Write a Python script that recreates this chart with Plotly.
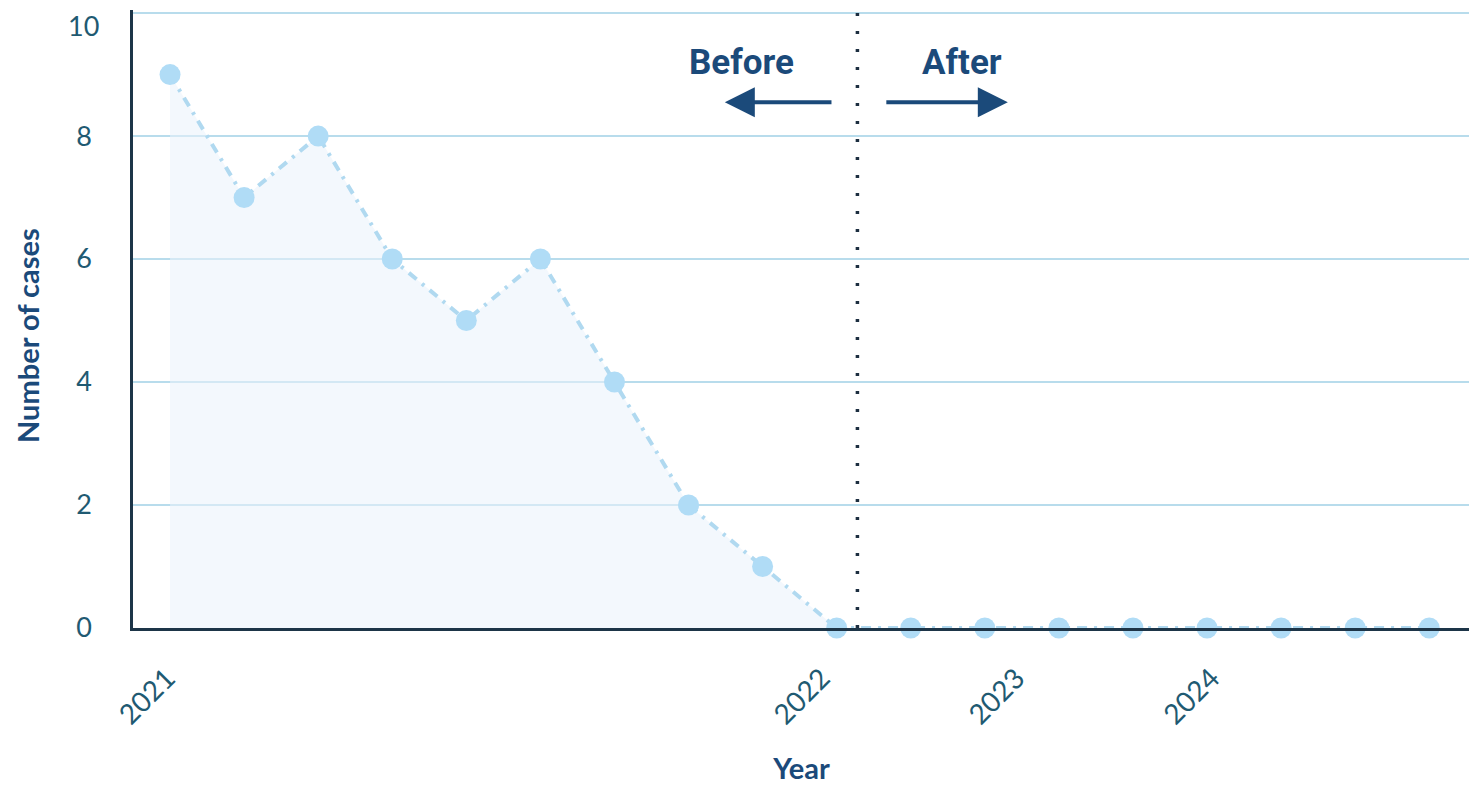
import plotly.graph_objects as go

# Data
month_index = list(range(18))
cases = [9, 7, 8, 6, 5, 6, 4, 2, 1, 0, 0, 0, 0, 0, 0, 0, 0, 0]
year_tick_pos = [-0.04, 8.8, 11.43, 14.06]
year_tick_text = ["2021", "2022", "2023", "2024"]
y_ticks = [0, 2, 4, 6, 8, 10]
y_tick_text = ["0", "2", "4", "6", "8", ""]
top_tick_label = "10"
divider_x = 9.28

navy = "#1b4a7a"
tick_col = "#1f5a72"
line_col = "#b0d9f0"
marker_col = "#b0dcf6"
grid_col = "#b8dcec"

fig = go.Figure()

fig.add_trace(go.Scatter(
    x=month_index, y=cases, mode="lines+markers",
    line=dict(color=line_col, width=4, dash="10px,7px,3px,7px"),
    marker=dict(size=21, color=marker_col),
    fill="tozeroy", fillcolor="rgba(234,243,252,0.55)",
    cliponaxis=False, hoverinfo="x+y", showlegend=False,
))

# divider line
fig.add_shape(type="line", xref="x", yref="y", x0=divider_x, x1=divider_x,
              y0=0, y1=10, line=dict(color="#1c2e40", width=3.5, dash="3px,15px"))

# arrows
fig.add_annotation(x=7.49, y=8.55, ax=8.95, ay=8.55, xref="x", yref="y",
                   axref="x", ayref="y", text="", showarrow=True,
                   arrowhead=2, arrowsize=1.5, arrowwidth=4, arrowcolor=navy)
fig.add_annotation(x=11.31, y=8.55, ax=9.65, ay=8.55, xref="x", yref="y",
                   axref="x", ayref="y", text="", showarrow=True,
                   arrowhead=2, arrowsize=1.5, arrowwidth=4, arrowcolor=navy)
fig.add_annotation(x=7.72, y=9.2, xref="x", yref="y", text="<b>Before</b>",
                   showarrow=False, font=dict(family="Roboto", size=35, color=navy))
fig.add_annotation(x=10.69, y=9.2, xref="x", yref="y", text="<b>After</b>",
                   showarrow=False, font=dict(family="Roboto", size=35, color=navy))

# top y tick label (placed just below the gridline so it stays visible)
fig.add_annotation(x=0, xref="paper", y=10, yref="y", text=top_tick_label,
                   showarrow=False, xanchor="right", yanchor="top",
                   xshift=-33, yshift=5, borderpad=0,
                   font=dict(family="Lato", size=27, color=tick_col))

# y axis title
fig.add_annotation(x=0, xref="paper", y=0.5, yref="paper",
                   text="<b>Number of cases</b>", textangle=-90,
                   showarrow=False, xanchor="center", yanchor="middle",
                   xshift=-106, yshift=-17, borderpad=0,
                   font=dict(family="Lato", size=29, color=navy))

fig.update_layout(
    width=1469, height=780,
    margin=dict(l=125, r=7, t=2, b=160),
    paper_bgcolor="white", plot_bgcolor="white",
    font=dict(family="Lato", color=tick_col),
    xaxis=dict(
        range=[-0.5, 17.55], tickvals=year_tick_pos, ticktext=year_tick_text,
        tickangle=-45, tickfont=dict(size=28, color=tick_col),
        showgrid=False, zeroline=False, showline=True, linecolor="#1d3548",
        linewidth=2.5, ticks="", ticklabelstandoff=20, automargin=False,
        ticklabeloverflow="allow",
        title=dict(text="<b>Year</b>", font=dict(size=29, color=navy), standoff=30),
    ),
    yaxis=dict(
        range=[0, 10.05], tickvals=y_ticks, ticktext=y_tick_text,
        tickfont=dict(size=27, color=tick_col),
        showgrid=True, gridcolor=grid_col, gridwidth=1.5, zeroline=False,
        showline=True, linecolor="#1d3548", linewidth=2.5, ticks="",
        ticklabelstandoff=33, automargin=False, ticklabeloverflow="allow",
    ),
)

fig.write_html("out.html")
